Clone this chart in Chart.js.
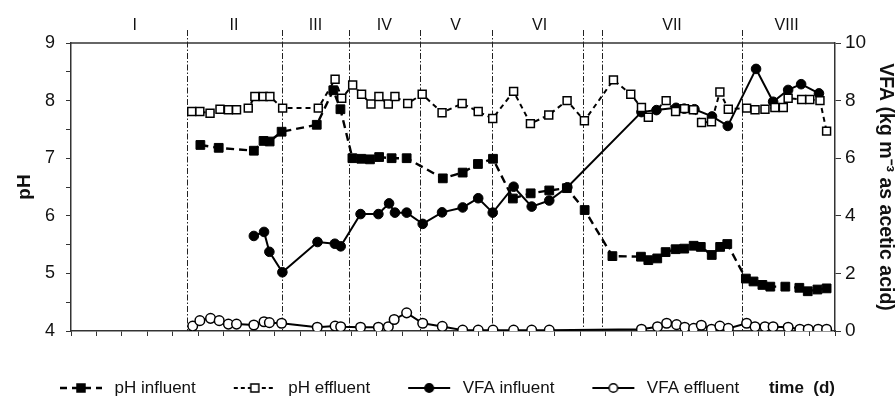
<!DOCTYPE html>
<html>
<head>
<meta charset="utf-8">
<script src="https://cdn.jsdelivr.net/npm/chart.js@4.4.1/dist/chart.umd.min.js"></script>
<style>
html, body { margin: 0; padding: 0; background: #fff; }
#wrap { width: 896px; height: 403px; }
</style>
</head>
<body>
<div id="wrap"><canvas id="phChart" width="896" height="403"></canvas></div>
<script>
// Values (time in days)
const phInDays = [50.8, 58, 71.8, 75.6, 78, 82.7, 96.5, 103, 105.8, 110.5, 114, 117.4, 121, 125.9, 131.8, 146, 153.8, 159.8, 165.7, 173.5, 180.5, 187.8, 194.7, 201.7, 212.6, 223.8, 226.7, 230.2, 233.5, 237.4, 240.8, 244.5, 247.3, 251.6, 254.9, 257.7, 265, 268, 271.5, 274.6, 280.5, 286, 289.3, 293.1, 296.7];
const phInValues = [7.23, 7.18, 7.13, 7.30, 7.29, 7.46, 7.58, 8.18, 7.85, 7.00, 6.99, 6.98, 7.02, 7.00, 7.00, 6.65, 6.75, 6.90, 6.99, 6.30, 6.39, 6.44, 6.48, 6.10, 5.30, 5.29, 5.23, 5.26, 5.37, 5.42, 5.43, 5.48, 5.46, 5.32, 5.46, 5.51, 4.91, 4.86, 4.80, 4.77, 4.77, 4.75, 4.69, 4.72, 4.74];

const phOutDays = [47.4, 50.6, 54.6, 58.5, 61.8, 65, 69.6, 72.2, 75.5, 78.1, 83.1, 97.1, 103.7, 106.3, 110.6, 114.1, 117.8, 120.9, 124.6, 127.2, 132.2, 137.9, 145.7, 153.6, 159.9, 165.6, 173.8, 180.4, 187.6, 194.8, 201.6, 213, 219.8, 224, 226.7, 233.7, 237.4, 240.9, 244.4, 247.6, 251.5, 254.8, 258.1, 265.3, 268.6, 272.5, 276.4, 279.7, 281.6, 286.9, 290.1, 294.1, 296.7];
const phOutValues = [7.81, 7.81, 7.78, 7.85, 7.84, 7.84, 7.87, 8.07, 8.07, 8.07, 7.87, 7.87, 8.37, 8.04, 8.27, 8.11, 7.94, 8.07, 7.94, 8.07, 7.95, 8.11, 7.79, 7.95, 7.81, 7.69, 8.16, 7.60, 7.75, 8.00, 7.65, 8.36, 8.11, 7.88, 7.71, 8.00, 7.81, 7.86, 7.84, 7.62, 7.63, 8.15, 7.85, 7.87, 7.84, 7.85, 7.88, 7.88, 8.04, 8.02, 8.02, 8.00, 7.47];

const vfaInDays = [71.8, 75.8, 77.9, 83, 96.8, 103.6, 105.9, 113.7, 120.7, 124.9, 127.2, 131.8, 138.1, 145.7, 153.8, 159.9, 165.6, 173.8, 180.9, 187.8, 194.9, 224, 229.9, 237.6, 240.8, 244.8, 251.7, 257.9, 269, 275.7, 281.6, 286.7, 293.7];
const vfaInValues = [3.30, 3.44, 2.75, 2.04, 3.09, 3.03, 2.94, 4.06, 4.06, 4.43, 4.11, 4.11, 3.72, 4.12, 4.29, 4.61, 4.11, 5.01, 4.32, 4.53, 4.99, 7.60, 7.67, 7.75, 7.72, 7.70, 7.45, 7.12, 9.10, 7.96, 8.37, 8.57, 8.25];

const vfaOutDays = [47.8, 50.6, 54.8, 58.2, 61.8, 65, 71.8, 75.8, 77.9, 82.7, 96.7, 103.7, 105.9, 113.7, 120.7, 124.6, 126.9, 131.8, 138.1, 145.8, 153.8, 159.9, 165.7, 173.8, 180.9, 187.8, 224, 230.3, 233.9, 237.8, 241, 244.5, 247.5, 251.5, 254.8, 258.1, 265.3, 268.6, 272.5, 275.7, 281.6, 286.2, 289.5, 293.4, 296.7];
const vfaOutValues = [0.17, 0.36, 0.44, 0.36, 0.24, 0.24, 0.21, 0.32, 0.29, 0.27, 0.13, 0.17, 0.15, 0.13, 0.13, 0.15, 0.40, 0.63, 0.27, 0.16, 0.03, 0.03, 0.03, 0.03, 0.03, 0.03, 0.06, 0.15, 0.27, 0.22, 0.13, 0.09, 0.20, 0.06, 0.17, 0.09, 0.27, 0.15, 0.15, 0.15, 0.13, 0.06, 0.06, 0.06, 0.06];

// Operating phases
const phaseBounds = [45.4, 82.7, 109, 137, 165.2, 201.1, 208.7, 263.6];
const phaseNames = ['I', 'II', 'III', 'IV', 'V', 'VI', 'VII', 'VIII'];
const phaseNameDays = [25, 64, 96, 123, 151, 184, 236, 281];

const FONT = "'Liberation Sans', Arial, Helvetica, sans-serif";
Chart.defaults.font.family = FONT;
Chart.defaults.color = '#111';

function toPoints(days, values) {
    return days.map((d, i) => ({ x: d, y: values[i] }));
}

// Small legend pictures: line sample with the marker in the middle
function makeIcon(dash, lineWidth, marker, filled) {
    const c = document.createElement('canvas');
    c.width = 44;
    c.height = 14;
    const g = c.getContext('2d');
    g.strokeStyle = '#000';
    g.lineWidth = lineWidth;
    g.setLineDash(dash);
    g.beginPath();
    g.moveTo(1, 7);
    g.lineTo(43, 7);
    g.stroke();
    g.setLineDash([]);
    g.lineWidth = 1.5;
    g.fillStyle = filled ? '#000' : '#fff';
    g.beginPath();
    if (marker === 'rect') {
        g.rect(18, 3, 8, 8);
    } else {
        g.arc(22, 7, 4.3, 0, Math.PI * 2);
    }
    g.fill();
    g.stroke();
    return c;
}

const legendIcons = [
    makeIcon([7, 5], 2.4, 'rect', true),
    makeIcon([4, 3], 2, 'rect', false),
    makeIcon([], 2, 'circle', true),
    makeIcon([], 2, 'circle', false)
];

// Phase dividers, phase names and the top frame line
const phasePlugin = {
    id: 'phases',
    beforeDatasetsDraw(chart) {
        const { ctx, chartArea, scales } = chart;
        const x = scales.x;
        ctx.save();
        ctx.strokeStyle = '#333';
        ctx.lineWidth = 1.5;
        ctx.beginPath();
        ctx.moveTo(chartArea.left, chartArea.top);
        ctx.lineTo(chartArea.right, chartArea.top);
        ctx.stroke();

        ctx.strokeStyle = '#222';
        ctx.lineWidth = 1;
        ctx.setLineDash([6, 2, 1.5, 2]);
        phaseBounds.forEach(d => {
            const px = Math.round(x.getPixelForValue(d)) + 0.5;
            ctx.beginPath();
            ctx.moveTo(px, chartArea.top - 13);
            ctx.lineTo(px, chartArea.bottom);
            ctx.stroke();
        });
        ctx.restore();
    },
    afterDraw(chart) {
        const { ctx, scales } = chart;
        ctx.save();
        ctx.fillStyle = '#111';
        ctx.font = '16px ' + FONT;
        ctx.textAlign = 'center';
        ctx.textBaseline = 'middle';
        phaseNames.forEach((name, i) => {
            ctx.fillText(name, scales.x.getPixelForValue(phaseNameDays[i]), 26);
        });
        ctx.restore();
    }
};

const ctx = document.getElementById('phChart').getContext('2d');
const phChart = new Chart(ctx, {
    type: 'line',
    data: {
        datasets: [
            {
                label: 'pH influent',
                data: toPoints(phInDays, phInValues),
                yAxisID: 'y',
                borderColor: '#000',
                borderWidth: 2.4,
                borderDash: [8, 5],
                pointStyle: 'rect',
                pointRadius: 6.2,
                pointBackgroundColor: '#000',
                pointBorderColor: '#000',
                pointBorderWidth: 1
            },
            {
                label: 'pH effluent',
                data: toPoints(phOutDays, phOutValues),
                yAxisID: 'y',
                borderColor: '#000',
                borderWidth: 2,
                borderDash: [5, 4],
                pointStyle: 'rect',
                pointRadius: 5.6,
                pointBackgroundColor: '#fff',
                pointBorderColor: '#000',
                pointBorderWidth: 1.5
            },
            {
                label: 'VFA influent',
                data: toPoints(vfaInDays, vfaInValues),
                yAxisID: 'y1',
                borderColor: '#000',
                borderWidth: 2,
                pointStyle: 'circle',
                pointRadius: 4.8,
                pointBackgroundColor: '#000',
                pointBorderColor: '#000',
                pointBorderWidth: 1
            },
            {
                label: 'VFA effluent',
                data: toPoints(vfaOutDays, vfaOutValues),
                yAxisID: 'y1',
                borderColor: '#000',
                borderWidth: 2,
                pointStyle: 'circle',
                pointRadius: 4.8,
                pointBackgroundColor: '#fff',
                pointBorderColor: '#000',
                pointBorderWidth: 1.5
            }
        ]
    },
    options: {
        responsive: false,
        animation: false,
        layout: { padding: { left: 22, right: 0, top: 43, bottom: -3.5 } },
        elements: { line: { tension: 0 } },
        plugins: {
            tooltip: { enabled: false },
            legend: {
                position: 'bottom',
                align: 'start',
                labels: {
                    usePointStyle: true,
                    pointStyleWidth: 50,
                    padding: 34,
                    color: '#111',
                    font: { size: 17 },
                    generateLabels(chart) {
                        const items = Chart.defaults.plugins.legend.labels.generateLabels(chart);
                        items.forEach((item, i) => { item.pointStyle = legendIcons[i]; });
                        return items;
                    }
                }
            }
        },
        scales: {
            x: {
                type: 'linear',
                position: 'bottom',
                min: 0,
                max: 300,
                ticks: {
                    stepSize: 10,
                    autoSkip: false,
                    maxRotation: 0,
                    padding: 7,
                    color: '#111',
                    font: { size: 17 },
                    callback: v => (v % 50 === 0 ? v : '')
                },
                grid: { drawOnChartArea: false, tickLength: 5, color: '#333' },
                border: { color: '#333', width: 1.5 },
                title: {
                    display: true,
                    text: 'time  (d)',
                    align: 'end',
                    color: '#111',
                    font: { size: 17, weight: 'bold' },
                    padding: { top: 0, bottom: -52.7 }
                },
                afterFit: s => { s.height = 14.5; }
            },
            y: {
                type: 'linear',
                position: 'left',
                min: 4,
                max: 9,
                ticks: {
                    stepSize: 0.5,
                    autoSkip: false,
                    padding: 11,
                    color: '#111',
                    font: { size: 18 },
                    callback: v => (Number.isInteger(v) ? v : '')
                },
                grid: { drawOnChartArea: false, tickLength: 5, color: '#333' },
                border: { color: '#333', width: 1.5 },
                title: {
                    display: true,
                    text: 'pH',
                    color: '#111',
                    font: { size: 19, weight: 'bold' },
                    padding: { top: -8.4, bottom: 0 }
                },
                afterFit: s => { s.width = 49; }
            },
            y1: {
                type: 'linear',
                position: 'right',
                min: 0,
                max: 10,
                ticks: {
                    stepSize: 2,
                    padding: 4,
                    color: '#111',
                    font: { size: 19 }
                },
                grid: { drawOnChartArea: false, tickLength: 6, color: '#333' },
                border: { color: '#333', width: 1.5 },
                title: {
                    display: true,
                    text: 'VFA (kg m⁻³ as acetic acid)',
                    color: '#111',
                    font: { size: 19.5, weight: 'bold' },
                    padding: { top: -1, bottom: 0 }
                },
                afterFit: s => { s.width = 61; }
            }
        }
    },
    plugins: [phasePlugin]
});
</script>
</body>
</html>
